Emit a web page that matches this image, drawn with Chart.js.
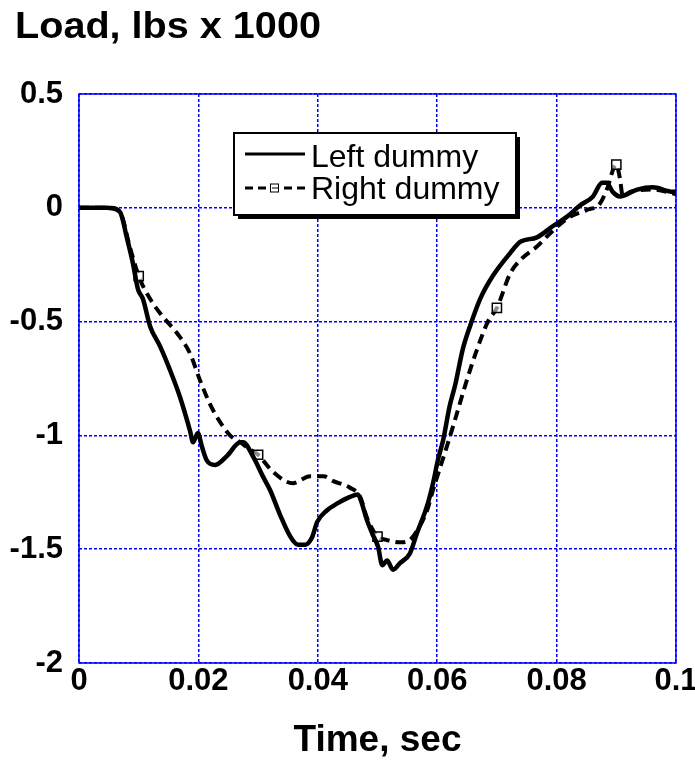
<!DOCTYPE html>
<html>
<head>
<meta charset="utf-8">
<script src="https://cdn.jsdelivr.net/npm/chart.js@4.4.1/dist/chart.umd.min.js"></script>
<style>
  html, body { margin: 0; padding: 0; background: #fff; }
</style>
</head>
<body>
<canvas id="grafica" width="695" height="763"></canvas>
<script>
// valores (tiempo en s, carga en lbs x 1000)
const leftTime = [0, 0.0047, 0.0055, 0.0069, 0.0080, 0.0090, 0.0099, 0.0107, 0.0119, 0.0136,
  0.0152, 0.0169, 0.0186, 0.0191, 0.0199, 0.0206, 0.0214, 0.0228, 0.0248, 0.0270,
  0.0275, 0.0291, 0.0308, 0.0320, 0.0337, 0.0353, 0.0367, 0.0379, 0.0390, 0.0399,
  0.0415, 0.0432, 0.0454, 0.0467, 0.0474, 0.0482, 0.0491, 0.0501, 0.0508, 0.0516,
  0.0526, 0.0538, 0.0554, 0.0566, 0.0583, 0.0593, 0.0601, 0.0610, 0.0621, 0.0630,
  0.0643, 0.0655, 0.0672, 0.0693, 0.0722, 0.0739, 0.0767, 0.0794, 0.0817, 0.0839,
  0.0861, 0.0876, 0.0884, 0.0894, 0.0906, 0.0935, 0.0961, 0.0995, 0.1];
const leftLoad = [0, 0, -0.002, -0.02, -0.13, -0.24, -0.36, -0.40, -0.52, -0.61,
  -0.71, -0.83, -0.98, -1.03, -0.99, -1.05, -1.11, -1.13, -1.09, -1.03,
  -1.03, -1.09, -1.18, -1.24, -1.35, -1.44, -1.48, -1.48, -1.45, -1.38,
  -1.33, -1.30, -1.27, -1.26, -1.30, -1.37, -1.43, -1.49, -1.57, -1.55,
  -1.59, -1.56, -1.52, -1.43, -1.31, -1.21, -1.11, -1.02, -0.87, -0.78,
  -0.62, -0.52, -0.40, -0.30, -0.20, -0.15, -0.13, -0.08, -0.04, 0.01,
  0.05, 0.11, 0.11, 0.07, 0.05, 0.08, 0.09, 0.07, 0.07];

const rightTime = [0, 0.0052, 0.0069, 0.0085, 0.0100, 0.0119, 0.0141, 0.0164, 0.0186, 0.0203,
  0.0219, 0.0236, 0.0253, 0.0270, 0.0285, 0.0300, 0.0325, 0.0358, 0.0387, 0.0410,
  0.0425, 0.0454, 0.0471, 0.0482, 0.0491, 0.0500, 0.0516, 0.0538, 0.0554, 0.0566,
  0.0583, 0.0593, 0.0605, 0.0616, 0.0630, 0.0647, 0.0667, 0.0685, 0.0700, 0.0722,
  0.0739, 0.0767, 0.0794, 0.0822, 0.0850, 0.0873, 0.0884, 0.0900, 0.0906, 0.0911,
  0.0923, 0.0961, 0.1];
const rightLoad = [0, 0, -0.02, -0.17, -0.30, -0.40, -0.48, -0.55, -0.64, -0.76,
  -0.86, -0.94, -1.00, -1.03, -1.06, -1.085, -1.16, -1.21, -1.18, -1.18,
  -1.20, -1.23, -1.27, -1.36, -1.41, -1.445, -1.46, -1.47, -1.46, -1.42,
  -1.33, -1.24, -1.14, -1.05, -0.93, -0.78, -0.62, -0.50, -0.44, -0.29,
  -0.23, -0.17, -0.10, -0.04, -0.01, 0.02, 0.08, 0.19, 0.13, 0.05,
  0.07, 0.08, 0.06];
const rightMarkTimes = [0.01, 0.03, 0.05, 0.07, 0.09];

const seriesNames = ['Left dummy', 'Right dummy'];
const xTicks = [0, 0.02, 0.04, 0.06, 0.08, 0.1];
const yTicks = [-2, -1.5, -1, -0.5, 0, 0.5];
const yTitle = 'Load, lbs x 1000';
const xTitle = 'Time, sec';

const AZUL = '#0000ff';
const FUENTE = "'Liberation Sans', Arial, sans-serif";

const aPuntos = (ts, vs) => ts.map((t, i) => ({ x: t, y: vs[i] }));

// marco azul, titulo de arriba y leyenda con sombra
const extras = {
  id: 'extras',
  beforeDatasetsDraw(chart) {
    const { ctx, chartArea: a } = chart;
    ctx.save();
    ctx.strokeStyle = AZUL;
    ctx.lineWidth = 1.5;
    ctx.strokeRect(a.left, a.top, a.right - a.left, a.bottom - a.top);
    ctx.restore();
  },
  afterDraw(chart) {
    const { ctx, chartArea: a } = chart;
    ctx.save();
    ctx.fillStyle = '#000';
    ctx.font = "bold 36px " + FUENTE;
    ctx.textBaseline = 'alphabetic';
    ctx.translate(15, 38);
    ctx.scale(1.1, 1);
    ctx.fillText(yTitle, 0, 0);
    ctx.restore();

    // leyenda
    const x = a.left + 155, y = a.top + 39, w = 282, h = 82;
    ctx.save();
    ctx.fillStyle = '#000';
    ctx.fillRect(x + 4, y + 4, w, h);
    ctx.fillStyle = '#fff';
    ctx.fillRect(x, y, w, h);
    ctx.strokeStyle = '#000';
    ctx.lineWidth = 2;
    ctx.strokeRect(x, y, w, h);

    const filas = [{ ly: y + 21, ty: y + 34 }, { ly: y + 55, ty: y + 66 }];
    chart.data.datasets.forEach((ds, i) => {
      const f = filas[i];
      ctx.beginPath();
      ctx.setLineDash(i === 0 ? [] : [8, 5]);
      ctx.lineWidth = 3;
      ctx.strokeStyle = '#000';
      ctx.moveTo(x + 11, f.ly);
      ctx.lineTo(x + 71, f.ly);
      ctx.stroke();
      ctx.setLineDash([]);
      if (i === 1) {
        ctx.fillStyle = '#fff';
        ctx.fillRect(x + 36, f.ly - 4.5, 9, 9);
        ctx.lineWidth = 1;
        ctx.strokeRect(x + 36.5, f.ly - 4, 8, 8);
        ctx.beginPath();
        ctx.moveTo(x + 38, f.ly);
        ctx.lineTo(x + 44, f.ly);
        ctx.stroke();
      }
      ctx.fillStyle = '#000';
      ctx.font = "32px " + FUENTE;
      ctx.fillText(ds.label, x + 77, f.ty);
    });
    ctx.restore();
  }
};

const fuenteTicks = { family: FUENTE, size: 31, weight: 'bold' };

new Chart(document.getElementById('grafica'), {
  type: 'line',
  data: {
    datasets: [{
      label: seriesNames[0],
      data: aPuntos(leftTime, leftLoad),
      borderColor: '#000',
      borderWidth: 4.5,
      pointRadius: 0,
      cubicInterpolationMode: 'monotone'
    }, {
      label: seriesNames[1],
      data: aPuntos(rightTime, rightLoad),
      borderColor: '#000',
      borderWidth: 4,
      borderDash: [10, 6],
      cubicInterpolationMode: 'monotone',
      pointStyle: 'rect',
      pointRadius: c => rightMarkTimes.includes(c.raw.x) ? 6.5 : 0,
      pointHoverRadius: 0,
      pointBorderWidth: 1.5,
      pointBorderColor: '#000',
      pointBackgroundColor: 'rgba(255,255,255,0.55)'
    }]
  },
  options: {
    responsive: false,
    animation: false,
    layout: { padding: { top: 94, right: 19, left: 0, bottom: 0 } },
    plugins: { legend: { display: false }, tooltip: { enabled: false } },
    scales: {
      x: {
        type: 'linear',
        min: 0, max: 0.1,
        afterBuildTicks: s => { s.ticks = xTicks.map(v => ({ value: v })); },
        afterFit: s => { s.height = 100; s.paddingLeft = 0; s.paddingRight = 19; },
        grid: { color: AZUL, lineWidth: 1.5, drawTicks: false },
        border: { display: false, dash: [3, 2] },
        ticks: {
          color: '#000', font: fuenteTicks, padding: 0,
          maxRotation: 0, autoSkip: false,
          callback: v => String(v)
        },
        title: {
          display: true, text: xTitle, color: '#000',
          font: { family: FUENTE, size: 37, weight: 'bold' },
          padding: { top: 0, bottom: 0 }
        }
      },
      y: {
        min: -2, max: 0.5,
        afterBuildTicks: s => { s.ticks = yTicks.map(v => ({ value: v })); },
        afterFit: s => { s.width = 79; },
        grid: { color: AZUL, lineWidth: 1.5, drawTicks: false },
        border: { display: false, dash: [3, 2] },
        ticks: {
          color: '#000', font: fuenteTicks, padding: 16,
          autoSkip: false,
          callback: v => String(v)
        }
      }
    }
  },
  plugins: [extras]
});
</script>
</body>
</html>
